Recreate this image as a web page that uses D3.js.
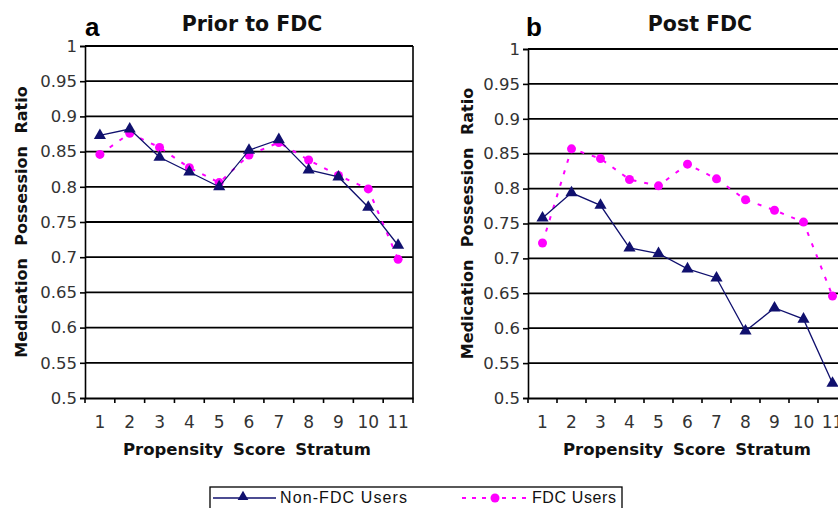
<!DOCTYPE html>
<html>
<head>
<meta charset="utf-8">
<script src="https://cdn.jsdelivr.net/npm/d3@7"></script>
<style>
  body { margin: 0; background: #fff; }
  svg { display: block; }
  .tick text { font-family: "DejaVu Sans", Verdana, sans-serif; fill: #333; }
</style>
</head>
<body>
<svg id="chart" width="838" height="508"></svg>
<script>
const strata = ["1", "2", "3", "4", "5", "6", "7", "8", "9", "10", "11"];
const yTicks = [0.5, 0.55, 0.6, 0.65, 0.7, 0.75, 0.8, 0.85, 0.9, 0.95, 1];

// panel a - prior to FDC
const priorNonFdc = [0.873, 0.882, 0.842, 0.821, 0.800, 0.852, 0.867, 0.824, 0.814, 0.771, 0.717];
const priorFdc = [0.846, 0.876, 0.856, 0.827, 0.806, 0.845, 0.863, 0.838, 0.816, 0.797, 0.697];

// panel b - post FDC
const postNonFdc = [0.758, 0.794, 0.776, 0.715, 0.707, 0.685, 0.672, 0.596, 0.629, 0.613, 0.521];
const postFdc = [0.722, 0.857, 0.843, 0.813, 0.804, 0.835, 0.814, 0.784, 0.769, 0.752, 0.646];

const navy = "#10106e";
const magenta = "#ff00ff";

const svg = d3.select("#chart");

function drawPanel(opts, nonFdc, fdc) {
  const { left, right, top, bottom, letter, title, titleX, letterX, axisTitleX } = opts;

  const x = d3.scaleBand().domain(strata).range([left, right]);
  const y = d3.scaleLinear().domain([0.5, 1]).range([bottom, top]);

  const g = svg.append("g");

  // gridlines
  g.selectAll(".grid")
    .data(yTicks.slice(1))
    .enter()
    .append("line")
    .attr("x1", left).attr("x2", right)
    .attr("y1", d => y(d)).attr("y2", d => y(d))
    .attr("stroke", "#000")
    .attr("stroke-width", 1.8);

  // right border
  g.append("line")
    .attr("x1", right).attr("x2", right)
    .attr("y1", top).attr("y2", bottom)
    .attr("stroke", "#000").attr("stroke-width", 1.6);

  // y axis
  const yAxis = g.append("g")
    .attr("transform", `translate(${left},0)`)
    .call(d3.axisLeft(y).tickValues(yTicks).tickFormat(d => String(d)).tickSize(5).tickPadding(3));
  yAxis.select(".domain").attr("stroke-width", 1.6);
  yAxis.selectAll(".tick line").attr("stroke-width", 1.6);
  yAxis.selectAll(".tick text").style("font-size", "16.5px");

  // x axis, ticks between categories like excel
  const xAxis = g.append("g")
    .attr("transform", `translate(0,${bottom})`)
    .call(d3.axisBottom(x).tickSize(0).tickPadding(18));
  xAxis.select(".domain").attr("stroke-width", 1.8);
  xAxis.selectAll(".tick text").style("font-size", "17px");
  const bounds = strata.map(s => x(s)).concat([x(strata[strata.length - 1]) + x.bandwidth()]);
  g.selectAll(".xtick")
    .data(bounds)
    .enter()
    .append("line")
    .attr("x1", d => d).attr("x2", d => d)
    .attr("y1", bottom).attr("y2", bottom + 5)
    .attr("stroke", "#000").attr("stroke-width", 1.6);

  const line = d3.line()
    .x((d, i) => x(strata[i]) + x.bandwidth() / 2)
    .y(d => y(d));

  // FDC users
  g.append("path")
    .datum(fdc)
    .attr("d", line)
    .attr("fill", "none")
    .attr("stroke", magenta)
    .attr("stroke-width", 2)
    .attr("stroke-dasharray", "4,8");
  g.selectAll(".fdc")
    .data(fdc)
    .enter()
    .append("circle")
    .attr("cx", (d, i) => x(strata[i]) + x.bandwidth() / 2)
    .attr("cy", d => y(d))
    .attr("r", 4.5)
    .attr("fill", magenta);

  // non-FDC users
  g.append("path")
    .datum(nonFdc)
    .attr("d", line)
    .attr("fill", "none")
    .attr("stroke", navy)
    .attr("stroke-width", 1.3);
  g.selectAll(".nonfdc")
    .data(nonFdc)
    .enter()
    .append("path")
    .attr("d", d3.symbol(d3.symbolTriangle, 64))
    .attr("transform", (d, i) => `translate(${x(strata[i]) + x.bandwidth() / 2},${y(d)})`)
    .attr("fill", navy);

  // titles
  g.append("text")
    .attr("x", letterX).attr("y", 36)
    .style("font-family", "Liberation Sans, Arial, sans-serif")
    .style("font-weight", "bold")
    .style("font-size", "26px")
    .text(letter);
  g.append("text")
    .attr("x", titleX).attr("y", 31)
    .attr("text-anchor", "middle")
    .style("font-family", "DejaVu Sans, Verdana, sans-serif")
    .style("font-weight", "bold")
    .style("font-size", "20.5px")
    .attr("fill", "#111")
    .text(title);

  g.append("text")
    .attr("transform", `translate(${axisTitleX},${(top + bottom) / 2}) rotate(-90)`)
    .attr("text-anchor", "middle")
    .style("font-family", "DejaVu Sans, Verdana, sans-serif")
    .style("font-weight", "bold")
    .style("font-size", "16px")
    .style("word-spacing", "7px")
    .attr("fill", "#111")
    .text("Medication Possession Ratio");

  g.append("text")
    .attr("x", opts.xTitleX).attr("y", 455)
    .attr("text-anchor", "middle")
    .style("font-family", "DejaVu Sans, Verdana, sans-serif")
    .style("font-weight", "bold")
    .style("font-size", "16.5px")
    .style("word-spacing", "4px")
    .attr("fill", "#111")
    .text("Propensity Score Stratum");
}

drawPanel({ left: 85, right: 413, top: 46, bottom: 398, letter: "a", letterX: 85,
  title: "Prior to FDC", titleX: 252, axisTitleX: 27, xTitleX: 247 }, priorNonFdc, priorFdc);
drawPanel({ left: 528, right: 847, top: 49, bottom: 398, letter: "b", letterX: 526,
  title: "Post FDC", titleX: 700, axisTitleX: 473, xTitleX: 687 }, postNonFdc, postFdc);

// legend
const legend = svg.append("g");
legend.append("rect")
  .attr("x", 210).attr("y", 487)
  .attr("width", 412).attr("height", 40)
  .attr("fill", "#fff")
  .attr("stroke", "#000")
  .attr("stroke-width", 1.3);

legend.append("line")
  .attr("x1", 213).attr("x2", 276).attr("y1", 498).attr("y2", 498)
  .attr("stroke", navy).attr("stroke-width", 1.5);
legend.append("path")
  .attr("d", d3.symbol(d3.symbolTriangle, 50))
  .attr("transform", "translate(243,497)")
  .attr("fill", navy);
legend.append("text")
  .attr("x", 280).attr("y", 503)
  .style("font-family", "Liberation Sans, Arial, sans-serif")
  .style("font-size", "16px")
  .style("letter-spacing", "1.1px")
  .attr("fill", "#111")
  .text("Non-FDC Users");

legend.append("line")
  .attr("x1", 462).attr("x2", 530).attr("y1", 498).attr("y2", 498)
  .attr("stroke", magenta).attr("stroke-width", 2)
  .attr("stroke-dasharray", "4,6");
legend.append("circle")
  .attr("cx", 495).attr("cy", 498).attr("r", 4.5)
  .attr("fill", magenta);
legend.append("text")
  .attr("x", 532).attr("y", 503)
  .style("font-family", "Liberation Sans, Arial, sans-serif")
  .style("font-size", "16px")
  .style("letter-spacing", "0.6px")
  .attr("fill", "#111")
  .text("FDC Users");
</script>
</body>
</html>
